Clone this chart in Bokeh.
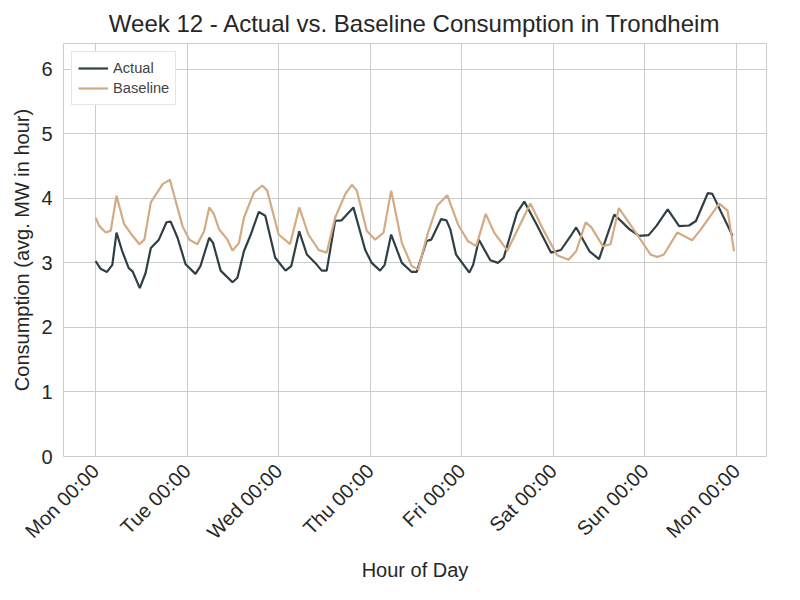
from bokeh.plotting import figure
from bokeh.models import FixedTicker, Range1d
from bokeh.embed import file_html
from bokeh.resources import INLINE

# hours since Monday 00:00
actual_h = [0, 1.3, 3, 4.4, 5.5, 7, 8.7, 9.7, 11.6, 13.1, 14.5, 16.6, 18.6, 19.7, 21.5, 23.6,
            26.2, 27.5, 29.8, 30.8, 32.8, 35.9, 37.2, 38.9, 40.7, 42.8, 44.5, 47.1, 49.8, 51.3,
            53.4, 55.4, 57.6, 59.3, 60.6, 62.8, 64.5, 67.6, 70.7, 72.4, 74.6, 75.8, 77.5, 80.3,
            82.9, 84.2, 86.8, 88, 90.6, 92, 93, 94.5, 98, 99, 100.5, 103.5, 105.5, 107, 110.5,
            112.4, 115.6, 119.4, 122, 124.8, 126, 129.5, 132, 136, 140, 142.5, 145, 147, 150,
            153, 155.6, 157.4, 160.5, 161.7, 167]
actual = [3.03, 2.91, 2.86, 2.97, 3.47, 3.18, 2.92, 2.87, 2.61, 2.84, 3.23, 3.36, 3.63, 3.64, 3.39, 2.98,
          2.83, 2.95, 3.39, 3.31, 2.88, 2.7, 2.77, 3.18, 3.44, 3.79, 3.73, 3.08, 2.88, 2.95,
          3.49, 3.13, 3.0, 2.88, 2.88, 3.65, 3.66, 3.86, 3.2, 3.0, 2.88, 2.97, 3.44, 3.0,
          2.86, 2.86, 3.34, 3.36, 3.68, 3.66, 3.52, 3.13, 2.85, 2.97, 3.36, 3.04, 3.0, 3.08, 3.78,
          3.95, 3.6, 3.16, 3.2, 3.44, 3.55, 3.18, 3.06, 3.75, 3.52, 3.42, 3.43, 3.57, 3.83,
          3.57, 3.58, 3.65, 4.08, 4.07, 3.42]

baseline_h = [0, 1, 2.7, 4, 5.5, 7.5, 9.7, 11.5, 12.8, 14.5, 17.6, 19.5, 21, 22.8, 24.6, 26.7,
              28.5, 29.8, 31, 32.4, 34.6, 35.9, 37.6, 38.9, 41.5, 43.7, 45, 48, 51, 53.4, 55.8,
              58.5, 60.6, 62.8, 65.5, 67.2, 68.5, 71.1, 73.3, 75.5, 77.5, 80.3, 82.9, 84.6, 87,
              89.6, 92.2, 95, 97.6, 99.8, 102.3, 104.5, 108, 113, 114, 117.5, 121, 124, 126,
              128.5, 130, 133, 135, 137.2, 142, 145.5, 147.3, 149, 152.5, 156.4, 158.7, 163.5,
              165.7, 167.4]
baseline = [3.7, 3.57, 3.47, 3.5, 4.04, 3.6, 3.42, 3.29, 3.36, 3.94, 4.22, 4.29, 3.96, 3.57, 3.36, 3.29,
            3.5, 3.86, 3.76, 3.52, 3.36, 3.19, 3.31, 3.7, 4.09, 4.2, 4.12, 3.44, 3.29, 3.86, 3.44,
            3.2, 3.16, 3.7, 4.07, 4.21, 4.12, 3.5, 3.36, 3.47, 4.12, 3.31, 2.95, 2.9, 3.44,
            3.89, 4.05, 3.6, 3.34, 3.26, 3.76, 3.47, 3.19, 3.8, 3.92, 3.5, 3.12, 3.05, 3.18,
            3.63, 3.55, 3.26, 3.29, 3.85, 3.44, 3.13, 3.09, 3.13, 3.47, 3.35, 3.52, 3.92,
            3.81, 3.18]

tick_hours = [0, 24, 48, 72, 96, 120, 144, 168]
tick_labels = ["Mon 00:00", "Tue 00:00", "Wed 00:00", "Thu 00:00", "Fri 00:00",
               "Sat 00:00", "Sun 00:00", "Mon 00:00"]

font = "Liberation Sans"

p = figure(width=784, height=584, output_backend="svg", toolbar_location=None,
           title="Week 12 - Actual vs. Baseline Consumption in Trondheim",
           x_axis_label="Hour of Day", y_axis_label="Consumption (avg. MW in hour)",
           min_border_left=63, min_border_right=18, min_border_top=24, min_border_bottom=20)
p.x_range = Range1d(-8.4, 175.9)
p.y_range = Range1d(0, 6.4)

p.title.text_font = font
p.title.text_font_size = "18pt"
p.title.text_font_style = "normal"
p.title.align = "center"
p.title.text_color = "#262626"
p.title.standoff = 14

for ax in (p.xaxis[0], p.yaxis[0]):
    ax.axis_label_text_font = font
    ax.axis_label_text_font_size = "15pt"
    ax.axis_label_text_font_style = "normal"
    ax.axis_label_text_color = "#262626"
    ax.major_label_text_font = font
    ax.major_label_text_font_size = "15pt"
    ax.major_label_text_color = "#262626"
    ax.axis_line_color = None
    ax.major_tick_line_color = None
    ax.minor_tick_line_color = None

p.xaxis.ticker = FixedTicker(ticks=tick_hours)
p.xaxis.major_label_overrides = {h: l for h, l in zip(tick_hours, tick_labels)}
p.xaxis.major_label_orientation = 0.785
p.yaxis.ticker = FixedTicker(ticks=[0, 1, 2, 3, 4, 5, 6])

p.xgrid.grid_line_color = "#cccccc"
p.ygrid.grid_line_color = "#cccccc"
p.outline_line_color = "#cccccc"

p.line(actual_h, actual, line_color="#2f3f44", line_width=2.2, legend_label="Actual")
p.line(baseline_h, baseline, line_color="#d4aa82", line_width=2.2, legend_label="Baseline")

p.legend.location = "top_left"
p.legend.label_text_font = font
p.legend.label_text_font_size = "11pt"
p.legend.border_line_color = "#cccccc"
p.legend.glyph_width = 30
p.legend.spacing = 0
p.legend.padding = 6
p.legend.margin = 8

open("out.html", "w").write(file_html(p, INLINE))
